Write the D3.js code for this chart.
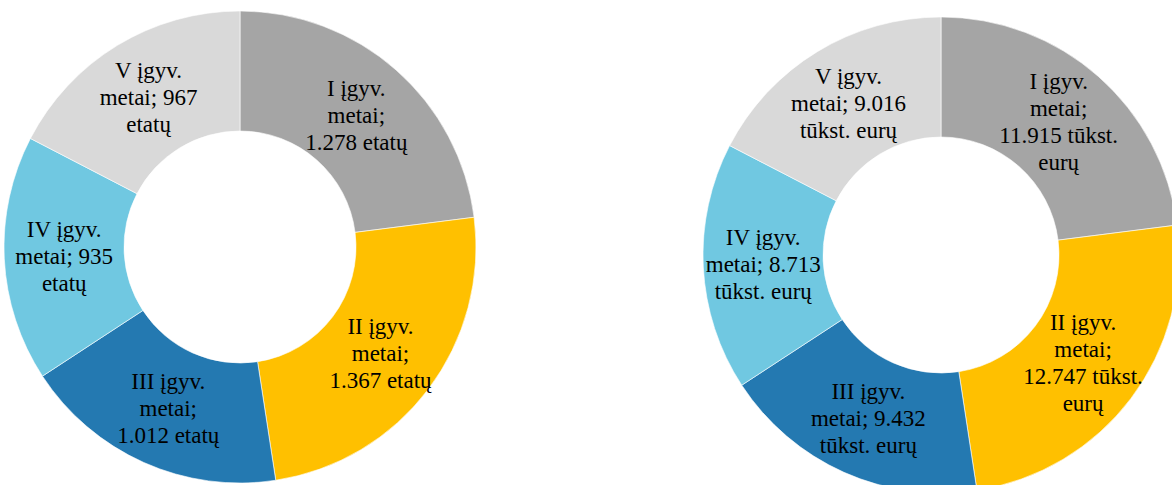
<!DOCTYPE html>
<html lang="lt">
<head>
  <meta charset="utf-8">
  <title>Įgyvendinimo metai</title>
  <script src="https://d3js.org/d3.v7.min.js" charset="utf-8"></script>
  <style>
  body { margin: 0; background: #fff; }
  </style>
</head>
<body>
  <script>
  var width = 1172;
  var height = 485;

  // data
  var categories = ["I", "II", "III", "IV", "V"];
  var staffValues = [1278, 1367, 1012, 935, 967];          // etatų
  var fundValues = [11915, 12747, 9432, 8713, 9016];       // tūkst. eurų
  var colors = ["#A5A5A5", "#FFC000", "#2479B1", "#70C8E1", "#D9D9D9"];

  // how many words go on each label line (Excel-like wrapping)
  var staffBreaks = [[2, 1, 2], [2, 1, 2], [2, 1, 2], [2, 2, 1], [2, 2, 1]];
  var fundBreaks = [[2, 1, 2, 1], [2, 1, 2, 1], [2, 2, 2], [2, 2, 2], [2, 2, 2]];

  var lt = d3.formatLocale({decimal: ",", thousands: ".", grouping: [3], currency: ["", " €"]});
  var fmt = lt.format(",d");

  var svg = d3.select("body")
    .append("svg")
    .attr("width", width)
    .attr("height", height);

  function donut(cx, cy, outer, inner, values, unit, breaks) {
    var g = svg.append("g").attr("transform", "translate(" + cx + "," + cy + ")");

    var pie = d3.pie().sort(null).value(function(d) { return d; });
    var arc = d3.arc().innerRadius(inner).outerRadius(outer);
    var labelArc = d3.arc().innerRadius((inner + outer) / 2).outerRadius((inner + outer) / 2);

    var slices = pie(values);

    g.selectAll("path")
      .data(slices)
      .enter()
      .append("path")
      .attr("d", arc)
      .attr("fill", function(d, i) { return colors[i]; })
      .attr("stroke", "#fff")
      .attr("stroke-width", 0.6);

    var lineH = 27;
    slices.forEach(function(d, i) {
      var words = [categories[i], "įgyv.", "metai;"].concat(fmt(d.data).split(" ")).concat(unit.split(" "));
      var lines = [];
      var k = 0;
      breaks[i].forEach(function(n) {
        lines.push(words.slice(k, k + n).join(" "));
        k += n;
      });
      var c = labelArc.centroid(d);
      var t = g.append("text")
        .attr("font-family", "'Liberation Serif', 'Times New Roman', Times, 'DejaVu Serif', serif")
        .attr("font-size", 23)
        .attr("fill", "#000")
        .attr("text-anchor", "middle");
      lines.forEach(function(s, j) {
        t.append("tspan")
          .attr("x", c[0])
          .attr("y", c[1] + (j - (lines.length - 1) / 2) * lineH)
          .attr("dy", "0.35em")
          .text(s);
      });
    });
  }

  donut(240, 247, 236, 116, staffValues, "etatų", staffBreaks);
  donut(941, 255, 238, 118, fundValues, "tūkst. eurų", fundBreaks);
  </script>
</body>
</html>
